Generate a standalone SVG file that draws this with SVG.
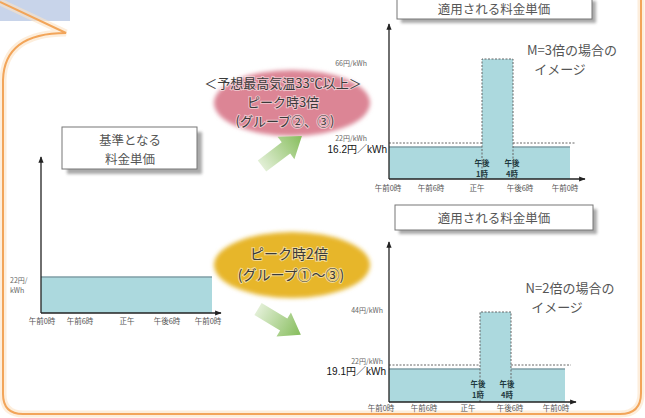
<svg xmlns="http://www.w3.org/2000/svg" width="645" height="418" viewBox="0 0 645 418">
<defs>
<style>
.jp{font-family:'Noto Sans CJK JP',sans-serif}
.box{fill:#fff;stroke:#777;stroke-width:1}
.shadow{fill:#aaa;filter:url(#blur)}
.bt{font-size:12.5px;fill:#555;text-anchor:middle}
.fill{fill:#acd9de}
.axis{stroke:#222;stroke-width:1.3;fill:none}
.dash{stroke:#666;stroke-width:1;stroke-dasharray:2 1.5;fill:none}
.top{stroke:#7f9ea6;stroke-width:1.5}
.tick{font-size:7.5px;fill:#555;text-anchor:middle}
.ylab{font-size:7px;fill:#666;text-anchor:end}
.pk{font-size:7.5px;font-weight:bold;fill:#1f3a40;text-anchor:middle}
.big{font-size:13px;fill:#555;text-anchor:middle}
.el{font-size:13px;fill:#3a3a3a;text-anchor:middle;stroke:#fff;stroke-width:2;stroke-opacity:.5;paint-order:stroke}
.el2{font-size:14px}
.val{font-family:'Liberation Sans','Noto Sans CJK JP',sans-serif;font-size:10px;fill:#111;text-anchor:end}
.garrow{fill:url(#gr)}
</style>
<filter id="blur" x="-10%" y="-30%" width="120%" height="160%"><feGaussianBlur stdDeviation="1.5"/></filter>
<filter id="soft" x="-10%" y="-20%" width="120%" height="140%"><feGaussianBlur stdDeviation="2"/></filter>
<marker id="ah" viewBox="0 0 10 10" refX="9" refY="5" markerWidth="5" markerHeight="5" orient="auto"><path d="M0,1 L10,5 L0,9 z" fill="#222"/></marker>
<linearGradient id="gr" x1="0" y1="0" x2="1" y2="0"><stop offset="0" stop-color="#e2efd6"/><stop offset="1" stop-color="#86bd5c"/></linearGradient>
</defs>
<rect width="645" height="418" fill="#fff"/>

<g id="callout-frame">
<rect x="0" y="0" width="70" height="21" fill="#c8d4ea"/>
<path d="M0,2 L66,33 C30,33 4,45 3,80 L3,394 Q3,414 23,414 L620,414 Q641,414 641,393 L641,0" fill="none" stroke="#fbe3c4" stroke-width="7" stroke-opacity=".6"/>
<path d="M0,2 L66,33 C30,33 4,45 3,80 L3,394 Q3,414 23,414 L620,414 Q641,414 641,393 L641,0" fill="none" stroke="#f2a55a" stroke-width="2"/>
</g>

<g id="box-base" class="jp">
<rect class="shadow" x="67" y="132" width="135" height="42"/>
<rect class="box" x="62" y="127" width="135" height="42"/>
<text class="bt" x="130" y="145">基準となる</text>
<text class="bt" x="130" y="164">料金単価</text>
</g>

<g id="chart-base" class="jp">
<rect class="fill" x="41" y="277" width="171" height="36"/>
<line class="top" x1="41" y1="277" x2="212" y2="277"/>
<text x="10" y="283" style="font-size:7px;fill:#666">22円/</text>
<text x="10" y="293" style="font-size:7px;fill:#666">kWh</text>
<text class="tick" x="42" y="324">午前0時</text>
<text class="tick" x="80" y="324">午前6時</text>
<text class="tick" x="127" y="324">正午</text>
<text class="tick" x="167" y="324">午後6時</text>
<text class="tick" x="208" y="324">午前0時</text>
</g>

<g id="box-m3" class="jp">
<rect class="shadow" x="401" y="1" width="195" height="22"/>
<rect class="box" x="397" y="-3" width="195" height="22"/>
<text class="bt" x="494" y="14">適用される料金単価</text>
</g>

<g id="chart-m3" class="jp">
<rect class="fill" x="389" y="147" width="181" height="32"/>
<rect class="fill" x="482" y="59" width="31" height="120"/>
<line class="top" x1="389" y1="147" x2="482" y2="147"/>
<line class="top" x1="513" y1="147" x2="570" y2="147"/>
<path class="dash" d="M389,143 H482 M513,143 H576 M482,179 V59 H513 V179"/>
<text class="ylab" x="367" y="66">66円/kWh</text>
<text class="ylab" x="367" y="141">22円/kWh</text>
<text class="val" x="387" y="153">16.2円／kWh</text>
<text class="pk" x="482" y="166">午後</text>
<text class="pk" x="482" y="177">1時</text>
<text class="pk" x="512" y="166">午後</text>
<text class="pk" x="512" y="177">4時</text>
<text class="tick" x="388" y="191">午前0時</text>
<text class="tick" x="431" y="191">午前6時</text>
<text class="tick" x="477" y="191">正午</text>
<text class="tick" x="520" y="191">午後6時</text>
<text class="tick" x="565" y="191">午前0時</text>
<text class="big" x="572" y="55">M=3倍の場合の</text>
<text class="big" x="560" y="74">イメージ</text>
</g>

<g id="box-n2" class="jp">
<rect class="shadow" x="399" y="209" width="198" height="25"/>
<rect class="box" x="395" y="205" width="198" height="25"/>
<text class="bt" x="494" y="223">適用される料金単価</text>
</g>

<g id="chart-n2" class="jp">
<rect class="fill" x="389" y="369" width="176" height="33"/>
<rect class="fill" x="480" y="312" width="31" height="90"/>
<line class="top" x1="389" y1="369" x2="480" y2="369"/>
<line class="top" x1="511" y1="369" x2="565" y2="369"/>
<path class="dash" d="M389,365 H480 M511,365 H571 M480,402 V312 H511 V402"/>
<text class="ylab" x="383" y="313">44円/kWh</text>
<text class="ylab" x="383" y="364">22円/kWh</text>
<text class="val" x="386" y="375">19.1円／kWh</text>
<text class="pk" x="478" y="387">午後</text>
<text class="pk" x="478" y="398">1時</text>
<text class="pk" x="507" y="387">午後</text>
<text class="pk" x="507" y="398">4時</text>
<text class="tick" x="381" y="411">午前0時</text>
<text class="tick" x="424" y="411">午前6時</text>
<text class="tick" x="468" y="411">正午</text>
<text class="tick" x="510" y="411">午後6時</text>
<text class="tick" x="556" y="411">午前0時</text>
<text class="big" x="570" y="293">N=2倍の場合の</text>
<text class="big" x="557" y="312">イメージ</text>
</g>

<g id="peak3" class="jp">
<ellipse cx="292" cy="103" rx="78" ry="33" fill="#dc8595" filter="url(#soft)"/>
<text class="el" x="283" y="88">＜予想最高気温33℃以上＞</text>
<text class="el" x="283" y="107">ピーク時3倍</text>
<text class="el" x="285" y="126">(グループ②、③)</text>
</g>

<g id="peak2" class="jp">
<ellipse cx="292" cy="265" rx="78" ry="33" fill="#e7b62a" filter="url(#soft)"/>
<text class="el el2" x="289" y="259">ピーク時2倍</text>
<text class="el el2" x="291" y="280">(グループ①～③)</text>
</g>

<g id="connectors">
<line class="axis" x1="41" y1="313" x2="41" y2="157" marker-end="url(#ah)"/>
<line class="axis" x1="41" y1="313" x2="221" y2="313" marker-end="url(#ah)"/>
<line class="axis" x1="389" y1="179" x2="389" y2="24" marker-end="url(#ah)"/>
<line class="axis" x1="389" y1="179" x2="585" y2="179" marker-end="url(#ah)"/>
<line class="axis" x1="389" y1="402" x2="389" y2="242" marker-end="url(#ah)"/>
<line class="axis" x1="389" y1="402" x2="576" y2="402" marker-end="url(#ah)"/>
<polygon class="garrow" transform="translate(262,166) rotate(-37)" points="0,-7 30,-7 30,-14 50,0 30,14 30,7 0,7"/>
<polygon class="garrow" transform="translate(258,309) rotate(31)" points="0,-7 30,-7 30,-14 50,0 30,14 30,7 0,7"/>
</g>
</svg>
